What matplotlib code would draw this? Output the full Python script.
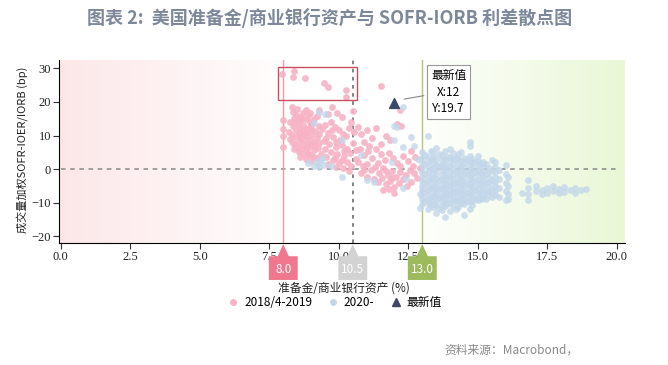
import numpy as np
import matplotlib.pyplot as plt
from matplotlib.patches import Polygon, Rectangle
from matplotlib.lines import Line2D
from matplotlib.transforms import blended_transform_factory

plt.rcParams['font.family'] = ['Noto Sans CJK SC', 'DejaVu Sans']

# 2018/4-2019 points (reserves/assets %, spread bp)
pink_pts = [
    (7.96, 28.3), (8.39, 29.2), (8.35, 27.4), (8.78, 27.1), (9.46, 25.6), (9.61, 24.4),
    (10.25, 23.5), (10.25, 21.4), (11.5, 24.7),
    (8.0, 11.9), (8.0, 9.8), (8.0, 6.5), (8.0, 14.5),
    (8.3, 18.5), (8.5, 17.8), (8.45, 16.2), (8.6, 15.5), (8.7, 16.8), (8.8, 14.9), (8.9, 15.8),
    (8.25, 14.0), (8.35, 12.8), (8.5, 13.5), (8.6, 12.2), (8.7, 13.1), (8.8, 11.8), (8.95, 12.6),
    (9.05, 13.4), (8.2, 11.0), (8.3, 10.2), (8.45, 9.5), (8.55, 10.8), (8.65, 9.1), (8.75, 10.4),
    (8.85, 9.8), (8.95, 8.7), (9.05, 10.1), (9.15, 11.3), (8.3, 8.2), (8.4, 7.4), (8.55, 8.0),
    (8.7, 7.1), (8.8, 6.3), (8.9, 7.6), (9.0, 6.8), (9.1, 8.2), (9.2, 9.4), (8.4, 5.9), (8.55, 5.2),
    (8.7, 4.6), (8.85, 5.4), (9.0, 4.1), (9.1, 5.7), (9.25, 6.4), (8.6, 3.5), (8.8, 3.0), (9.0, 2.4),
    (9.2, 3.2), (9.35, 4.6), (8.65, 15.0), (8.4, 15.3), (8.55, 14.2), (8.9, 11.0), (9.1, 14.8),
    (8.35, 16.9), (8.45, 11.6), (8.6, 10.0), (8.75, 8.6), (8.95, 14.0), (9.0, 11.9), (8.5, 6.6),
    (8.65, 6.0), (8.9, 4.6), (9.15, 7.1), (9.3, 10.4), (9.3, 12.7), (9.2, 15.9), (8.8, 17.6),
    (8.4, 13.9), (8.7, 11.4), (9.1, 3.5), (9.3, 7.8), (8.25, 9.0), (8.95, 16.7),
    (9.3, 17.5), (9.6, 16.3), (9.5, 13.2), (9.7, 14.1), (9.85, 12.6), (10.0, 11.5), (9.4, 11.8),
    (9.6, 10.6), (9.8, 9.7), (10.05, 8.8), (10.25, 9.9), (9.45, 8.3), (9.65, 7.5), (9.9, 6.6),
    (10.1, 7.2), (10.3, 6.0), (9.5, 6.0), (9.7, 5.2), (9.95, 4.5), (10.2, 3.8), (10.4, 4.9),
    (9.55, 3.7), (9.8, 2.6), (10.0, 1.8), (10.3, 2.1), (10.45, 1.0), (9.6, 1.4), (9.9, 0.5),
    (10.15, 0.2), (10.35, -0.6), (9.95, 16.8), (10.1, 15.6), (10.45, 14.1), (10.35, 12.3),
    (10.55, 11.0), (10.5, 7.8), (10.6, 5.6), (10.6, 3.0), (9.75, 18.6), (10.5, 17.2),
    (9.55, 9.2), (9.75, 11.5), (9.9, 8.0), (10.15, 10.5), (10.2, 5.4), (9.85, 3.4), (10.1, 2.7),
    (10.7, 12.5), (10.8, 10.4), (10.9, 8.1), (11.0, 11.6), (11.2, 9.3), (11.35, 12.2), (11.5, 7.4),
    (11.7, 10.0), (11.85, 8.7), (12.1, 13.4), (12.2, 17.5), (12.25, 12.7), (10.75, 6.1), (10.9, 4.3),
    (11.05, 5.5), (11.2, 3.2), (11.35, 5.9), (11.5, 4.4), (11.65, 2.7), (11.8, 4.9), (11.95, 3.3),
    (12.1, 1.8), (12.3, 3.9), (12.5, 2.5), (12.65, 1.0), (10.7, 2.0), (10.85, 0.9), (11.0, 1.6),
    (11.15, -0.3), (11.3, 0.6), (11.45, -1.2), (11.6, 0.3), (11.75, -1.8), (11.9, -0.7),
    (12.05, -2.4), (12.2, -0.9), (12.4, -1.6), (12.55, -0.2), (12.7, -1.1), (10.8, -1.3),
    (11.0, -2.2), (11.25, -2.9), (11.4, -3.8), (11.55, -2.6), (11.7, -4.5), (11.85, -3.4),
    (12.0, -5.2), (12.15, -4.1), (12.3, -3.0), (11.6, -6.2), (12.0, -7.1), (11.8, -5.8),
    (12.45, -4.9), (12.6, -3.7), (12.8, -2.5), (10.9, -0.4), (11.1, 7.0), (12.6, 5.3),
    (12.75, 3.6), (12.9, 0.4), (11.4, 1.9), (11.7, -0.6), (11.9, -2.6), (12.2, 0.9),
]

# 2020- points: scattered ones, then the dense block read column by column
blue_pts = [
    (9.1, 13.7), (9.3, 17.0), (9.5, 16.4), (9.1, 1.0), (9.2, 2.2), (9.3, 0.6), (9.35, 2.7),
    (9.25, 1.6), (9.45, 1.2), (9.4, 3.4), (10.1, -2.4), (10.1, 8.6), (11.25, -3.9), (12.3, -5.7),
    (12.0, 8.6), (12.1, 12.5), (12.3, 6.5), (12.3, 18.5), (12.0, 12.8), (10.8, 4.2), (11.9, 2.0),
    (12.4, -2.9), (12.6, 9.5), (12.7, 6.8), (12.85, 3.0), (12.9, -7.5), (12.9, -11.6),
    (11.0, -3.3), (9.7, 0.9), (8.9, 1.9),
    (16.0, 1.2), (16.0, -1.5), (16.0, -4.0), (16.0, -6.5), (16.0, -9.2), (16.1, -2.4),
    (16.1, -5.0), (16.1, -7.3), (16.1, -9.0), (16.6, -7.0), (16.8, -3.3), (16.8, -5.5),
    (16.8, -7.5), (16.8, -9.2), (17.1, -5.0), (17.1, -6.5), (17.3, -6.2), (17.3, -7.4),
    (17.5, -5.6), (17.5, -7.0), (17.7, -5.1), (17.7, -6.6), (17.9, -5.9), (17.9, -7.2),
    (18.1, -5.4), (18.1, -6.8), (18.3, -6.1), (18.5, -5.5), (18.5, -7.0), (18.7, -6.3), (18.9, -6.0),
]
blue_cols = {
    13.0: [5.0, 3.4, 2.1, 0.6, -0.8, -2.2, -3.5, -4.9, -6.2, -7.6, -8.9, -10.5],
    13.1: [4.1, 1.4, -1.5, -4.2, -6.9, -9.6],
    13.2: [9.8, 3.6, 2.0, 0.7, -0.8, -2.2, -3.6, -4.9, -6.3, -7.6, -9.0, -10.1, -12.0],
    13.3: [5.4, 2.7, -0.1, -2.9, -5.6, -8.3, -10.8],
    13.4: [4.8, 3.3, 1.9, 0.4, -1.1, -2.5, -3.8, -5.2, -6.5, -7.9, -9.2, -10.4, -11.4],
    13.5: [6.2, 3.1, 1.6, 0.2, -1.2, -2.6, -4.0, -5.3, -6.7, -8.0, -9.4, -10.7, -13.1],
    13.6: [4.6, 1.0, -3.3, -6.0, -8.7, -11.5],
    13.7: [4.2, 2.8, 1.3, -0.2, -1.6, -3.0, -4.3, -5.7, -7.1, -8.4, -9.6, -10.9, -12.2],
    13.8: [5.5, 2.6, 1.1, -0.4, -1.8, -3.1, -4.5, -5.8, -7.2, -8.5, -9.8, -11.0, -14.3],
    13.9: [3.7, 0.3, -2.4, -5.1, -7.8, -10.4],
    14.0: [6.0, 3.7, 2.3, 0.8, -0.6, -2.0, -3.4, -4.7, -6.1, -7.4, -8.8, -10.2, -12.5],
    14.1: [4.9, 2.9, 1.4, 0.1, -1.4, -2.8, -4.1, -5.5, -6.8, -8.2, -9.5, -10.9],
    14.2: [3.2, -0.9, -3.7, -6.4, -9.1, -11.8],
    14.3: [4.4, 2.9, 1.5, 0.0, -1.3, -2.7, -4.0, -5.4, -6.8, -8.1, -9.5, -11.3],
    14.4: [5.1, 2.3, 0.8, -0.6, -2.0, -3.4, -4.8, -6.1, -7.5, -8.8, -10.1],
    14.5: [3.4, 1.9, 0.5, -0.9, -2.3, -3.7, -5.0, -6.4, -7.7, -9.0, -10.3, -13.7],
    14.6: [2.6, -1.5, -4.3, -7.0, -9.6],
    14.7: [8.0, 7.0, 4.0, 2.5, 1.1, -0.3, -1.8, -3.2, -4.5, -5.9, -7.2, -8.5, -9.8, -12.0],
    14.8: [3.0, 1.4, -0.1, -1.5, -2.9, -4.3, -5.6, -7.0, -8.3, -9.6, -10.6],
    14.9: [2.2, -0.8, -3.6, -6.3, -9.0],
    15.0: [3.9, 2.4, 1.0, -0.4, -1.7, -3.1, -4.4, -5.7, -7.0, -8.2, -9.3],
    15.1: [1.6, -1.1, -3.9, -6.5, -8.8],
    15.2: [2.2, 0.8, -0.7, -2.0, -3.3, -4.7, -6.0, -7.3, -8.6],
    15.3: [1.5, -1.4, -4.1, -6.7, -9.0],
    15.4: [0.4, -1.0, -2.5, -3.8, -5.2, -6.5, -7.8],
    15.5: [2.6, -0.3, -3.1, -5.8, -8.4],
    15.6: [2.0, 0.5, -1.0, -2.4, -3.7, -5.1, -6.4, -7.6],
    15.75: [-0.3, -2.9, -5.6, -8.2],
}
latest_x, latest_y = 12, 19.7
ref_lines = [(8.0, '#f0788e'), (10.5, '#d2d2d2'), (13.0, '#9dba5c')]
legend_labels = ['2018/4-2019', '2020-', '最新值']

pink_c = '#f7b3c5'
blue_c = '#c3d7ea'
navy = '#3b4868'

fig = plt.figure(figsize=(6.68, 3.65), dpi=100)
ax = fig.add_axes([0.089, 0.334, 0.847, 0.502])
ax.set_xlim(-0.05, 20.3)
ax.set_ylim(-22, 32.5)

# background tint: pink on the left, green on the right
grad = np.ones((1, 400, 3))
xs = np.linspace(0, 1, 400)
pk = np.clip(1 - xs / 0.42, 0, 1)
gr = np.clip((xs - 0.62) / 0.38, 0, 1)
grad[0, :, 0] = 1 - pk * 0.01 - gr * 0.085
grad[0, :, 1] = 1 - pk * 0.095 - gr * 0.03
grad[0, :, 2] = 1 - pk * 0.09 - gr * 0.16
ax.imshow(grad, extent=[-0.05, 20.3, -22, 32.5], aspect='auto', zorder=0)

ax.plot([0, 20.0], [0, 0], color='#888888', lw=1.1, ls=(0, (3, 3)), zorder=1)
ax.axvline(8.0, color='#f29aaa', lw=1.0, zorder=1)
ax.axvline(10.5, color='#777777', lw=1.3, ls=(0, (2, 2.5)), zorder=1)
ax.axvline(13.0, color='#b5c47c', lw=1.0, zorder=1)

px, py = zip(*pink_pts)
ax.scatter(px, py, s=24, color=pink_c, alpha=0.9, linewidths=0, zorder=2)
bx = [x for x, _ in blue_pts]
by = [y for _, y in blue_pts]
for cx, ys in blue_cols.items():
    bx += [cx] * len(ys)
    by += ys
ax.scatter(bx, by, s=24, color=blue_c, alpha=0.8, linewidths=0, zorder=3)

ax.add_patch(Rectangle((7.8, 20.5), 2.85, 9.9, fill=False, ec='#c8505e', lw=1.0, zorder=4))
ax.scatter([latest_x], [latest_y], marker='^', s=50, color=navy, zorder=5)
ax.annotate('最新值\nX:12\nY:19.7', xy=(latest_x + 0.25, latest_y + 1.0), xytext=(13.95, 22.9),
            fontsize=8.5, ha='center', va='center', linespacing=1.35,
            bbox=dict(boxstyle='square,pad=0.35', fc='white', ec='#999999', lw=0.8),
            arrowprops=dict(arrowstyle='-', color='#888888', lw=0.8, relpos=(0, 0.45)),
            zorder=6)

for s in ['top', 'right']:
    ax.spines[s].set_visible(False)
ax.spines['left'].set_linewidth(0.8)
ax.spines['bottom'].set_linewidth(0.8)
ax.set_xticks(np.arange(0, 20.1, 2.5))
ax.set_xticklabels(['%.1f' % v for v in np.arange(0, 20.1, 2.5)])
ax.set_yticks([-20, -10, 0, 10, 20, 30])
ax.tick_params(labelsize=8, length=4, width=0.8, color='#333333', labelcolor='#222222', pad=2)
for lab in ax.get_xticklabels() + ax.get_yticklabels():
    lab.set_family('Liberation Serif')
    lab.set_fontsize(9)

# value tags under the axis
tr = blended_transform_factory(ax.transData, fig.transFigure)
for xv, col in ref_lines:
    tag = Polygon([(xv, 0.331), (xv + 0.2, 0.298), (xv + 0.52, 0.298), (xv + 0.52, 0.233),
                   (xv - 0.52, 0.233), (xv - 0.52, 0.298), (xv - 0.2, 0.298)],
                  closed=True, transform=tr, fc=col, ec='none', clip_on=False, zorder=7)
    ax.add_patch(tag)
    ax.text(xv, 0.262, '%.1f' % xv, transform=tr, ha='center', va='center',
            fontsize=8.5, color='white', zorder=8)

fig.text(0.515, 0.21, '准备金/商业银行资产 (%)', ha='center', va='center', fontsize=8.5, color='#222222')
fig.text(0.033, 0.59, '成交量加权SOFR-IOER/IORB (bp)', rotation=90, ha='center', va='center',
         fontsize=8, color='#222222')

handles = [Line2D([], [], marker='o', ls='', color=pink_c, markersize=4),
           Line2D([], [], marker='o', ls='', color=blue_c, markersize=4),
           Line2D([], [], marker='^', ls='', color=navy, markersize=6)]
fig.legend(handles, legend_labels, loc='center', bbox_to_anchor=(0.5, 0.172), ncol=3,
           frameon=False, fontsize=8.5, handletextpad=0.3, columnspacing=1.2, handlelength=1.2)

fig.text(0.493, 0.95, '图表 2:  美国准备金/商业银行资产与 SOFR-IORB 利差散点图', ha='center', va='center',
         fontsize=13, fontweight='bold', color='#7d889a')
fig.text(0.665, 0.04, '资料来源：Macrobond，', ha='left', va='center', fontsize=8.5, color='#888888')

fig.savefig('out.png', dpi=100)
